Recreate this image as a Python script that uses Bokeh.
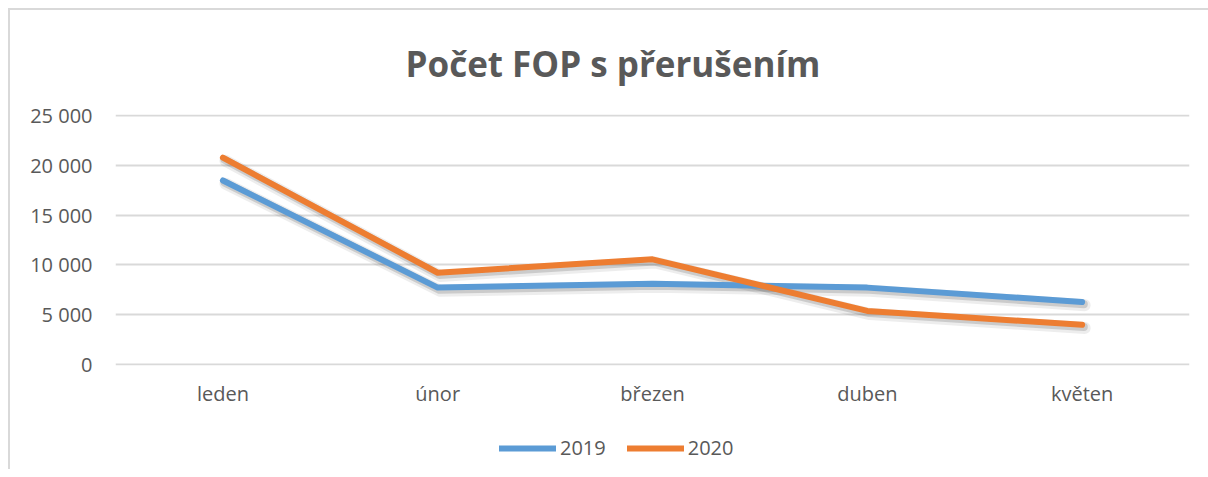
from bokeh.plotting import figure
from bokeh.models import FactorRange, Range1d, FixedTicker, Legend, LegendItem
from bokeh.layouts import column
from bokeh.transform import dodge
from bokeh.embed import file_html
from bokeh.resources import INLINE

months = ["leden", "únor", "březen", "duben", "květen"]
v2019 = [18500, 7700, 8100, 7700, 6250]
v2020 = [20800, 9200, 10550, 5350, 3950]
series_names = ["2019", "2020"]
y_ticks = [0, 5000, 10000, 15000, 20000, 25000]
y_tick_labels = ["0", "5 000", "10 000", "15 000", "20 000", "25 000"]
title_text = "Počet FOP s přerušením"

TEXT = "#595959"
FONT = "Open Sans"
BLUE = "#5B9BD5"
ORANGE = "#ED7D31"
colors = [BLUE, ORANGE]

p = figure(
    x_range=FactorRange(*months, range_padding=0),
    y_range=Range1d(-150, 25150),
    width=1198, height=420,
    output_backend="svg", toolbar_location=None,
    min_border_left=105, min_border_right=19,
    min_border_top=104, min_border_bottom=65,
)
p.outline_line_color = None
p.background_fill_color = "white"
p.border_fill_color = "white"

p.title.text = title_text
p.title.align = "left"
p.title.offset = 290
p.title.standoff = 55
p.title.text_font = FONT
p.title.text_font_size = "35px"
p.title.text_font_style = "bold"
p.title.text_color = TEXT

# axes
p.xgrid.grid_line_color = None
p.ygrid.grid_line_color = "#d9d9d9"
p.ygrid.grid_line_width = 2
p.yaxis.ticker = FixedTicker(ticks=y_ticks)
p.yaxis.major_label_overrides = {t: l for t, l in zip(y_ticks, y_tick_labels)}
for ax in (p.xaxis[0], p.yaxis[0]):
    ax.axis_line_color = None
    ax.major_tick_line_color = None
    ax.minor_tick_line_color = None
    ax.major_tick_out = 0
    ax.major_tick_in = 0
    ax.major_label_text_font = FONT
    ax.major_label_text_font_size = "20px"
    ax.major_label_text_color = TEXT
p.yaxis.major_label_standoff = 23
p.xaxis.major_label_standoff = 14

src = {"m": months, "a": v2019, "b": v2020}

# soft shadows
for col in ("a", "b"):
    p.line(x=dodge("m", 0.012, range=p.x_range), y=dodge(col, -320, range=p.y_range), source=src,
           line_color="#000000", line_alpha=0.07, line_width=12, line_cap="round", line_join="round")
    p.line(x=dodge("m", 0.008, range=p.x_range), y=dodge(col, -220, range=p.y_range), source=src,
           line_color="#000000", line_alpha=0.14, line_width=8, line_cap="round", line_join="round")

for col, c in zip(("a", "b"), colors):
    p.line(x="m", y=col, source=src, line_color=c, line_width=6, line_cap="round", line_join="round")

# legend strip: the same two series, hidden, only used for their legend keys
lg = figure(x_range=FactorRange(*months), width=1198, height=39, output_backend="svg",
            toolbar_location=None, x_axis_type=None, y_axis_type=None,
            min_border_left=105, min_border_right=19, min_border_top=0, min_border_bottom=0)
lg.outline_line_color = None
lg.xgrid.grid_line_color = None
lg.ygrid.grid_line_color = None
lg.border_fill_color = "white"
items = []
for col, name, c in zip(("a", "b"), series_names, colors):
    r = lg.line(x="m", y=col, source=src, line_color=c, line_width=6, line_cap="round", visible=False)
    items.append(LegendItem(label=name, renderers=[r]))
legend = Legend(
    items=items, orientation="horizontal", location=(384, 8), click_policy="none",
    glyph_width=57, glyph_height=20, label_height=20, label_standoff=4,
    spacing=21, padding=0, margin=0, inactive_fill_alpha=0,
    border_line_color=None, background_fill_alpha=0,
    label_text_font=FONT, label_text_font_size="20px", label_text_color=TEXT,
)
lg.add_layout(legend, "center")

layout = column(p, lg, spacing=0)
layout.styles = {"border-top": "2px solid #d9d9d9", "border-left": "2px solid #d9d9d9",
                 "margin-left": "8px", "margin-top": "8px"}

open("out.html", "w").write(file_html(layout, INLINE))
